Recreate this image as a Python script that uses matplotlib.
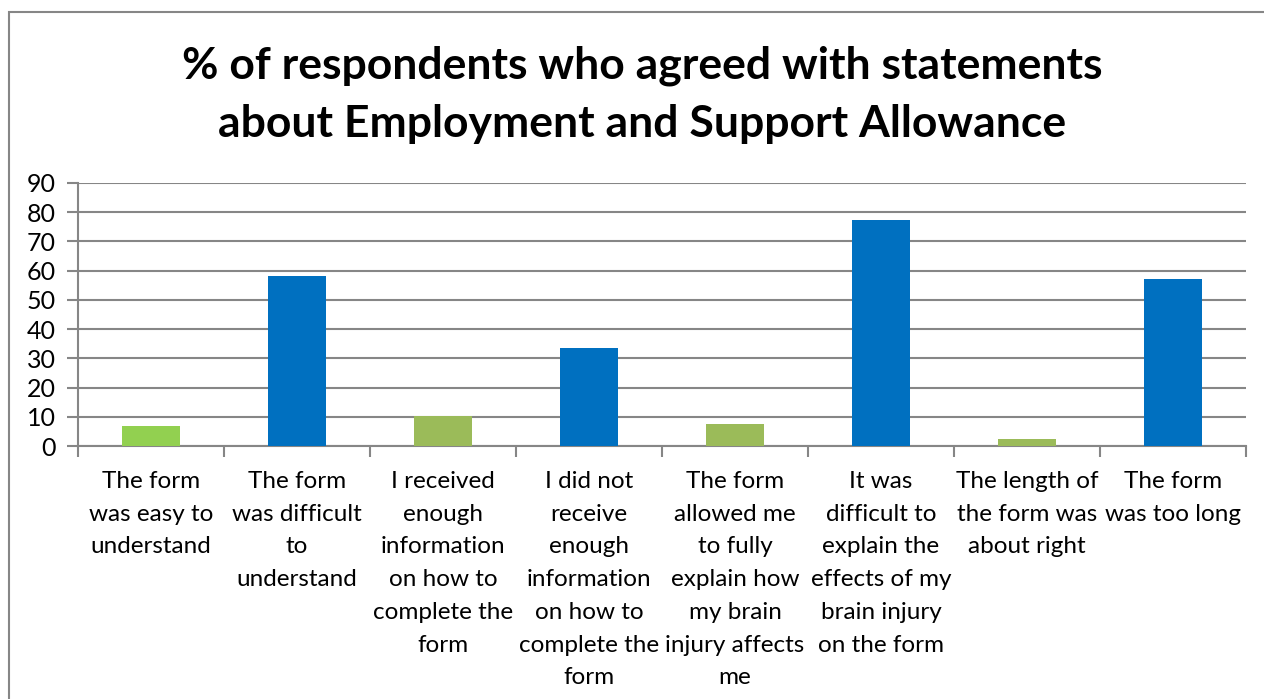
import matplotlib
matplotlib.use("Agg")
import matplotlib.pyplot as plt
from matplotlib.patches import Rectangle
import numpy as np

categories = [
    "The form\nwas easy to\nunderstand",
    "The form\nwas difficult\nto\nunderstand",
    "I received\nenough\ninformation\non how to\ncomplete the\nform",
    "I did not\nreceive\nenough\ninformation\non how to\ncomplete the\nform",
    "The form\nallowed me\nto fully\nexplain how\nmy brain\ninjury affects\nme",
    "It was\ndifficult to\nexplain the\neffects of my\nbrain injury\non the form",
    "The length of\nthe form was\nabout right",
    "The form\nwas too long",
]
values = [7.0, 58.3, 10.3, 33.6, 7.6, 77.4, 2.4, 57.3]
bar_colors = ["#92D050", "#0070C0", "#9BBB59", "#0070C0", "#9BBB59", "#0070C0", "#9BBB59", "#0070C0"]
yticks = [0, 10, 20, 30, 40, 50, 60, 70, 80, 90]
title = "% of respondents who agreed with statements\nabout Employment and Support Allowance"

FONT = ["Lato", "DejaVu Sans"]
plt.rcParams['font.family'] = FONT

fig = plt.figure(figsize=(12.64, 6.99), dpi=100)
fig.patch.set_facecolor("white")
# outer chart border
fig.add_artist(Rectangle((9/1264, -0.1), 1.2, 1 - 12/699 + 0.1, transform=fig.transFigure,
                         fill=False, edgecolor="#868686", linewidth=1.5))

ax = fig.add_axes([78/1264, 1 - 446/699, (1246 - 78)/1264, (446 - 183)/699])
x = np.arange(len(categories))
ax.bar(x, values, width=0.4, color=bar_colors, zorder=3)
ax.set_xlim(-0.5, len(categories) - 0.5)
ax.set_ylim(0, 90)
ax.set_yticks(yticks)
ax.set_yticklabels([str(v) for v in yticks], fontsize=18, color="black")
ax.grid(axis="y", color="#868686", linewidth=1.5, zorder=0)
for s in ["top", "right"]:
    ax.spines[s].set_visible(False)
for s in ["left", "bottom"]:
    ax.spines[s].set_color("#868686")
    ax.spines[s].set_linewidth(1.5)
ax.tick_params(axis="y", length=8, width=1.5, color="#868686", pad=8)
ax.set_xticks(x)
ax.set_xticklabels(categories, fontsize=17.5, linespacing=1.69, va="top")
ax.tick_params(axis="x", which="major", length=0, pad=18)
ax.set_xticks(np.arange(-0.5, len(categories)), minor=True)
ax.tick_params(axis="x", which="minor", length=8, width=1.5, color="#868686")

fig.text(0.508, 1 - 95/699, title, ha="center", va="center", fontsize=32,
         fontweight="bold", linespacing=1.55)

fig.savefig("out.png", dpi=100, facecolor="white")
